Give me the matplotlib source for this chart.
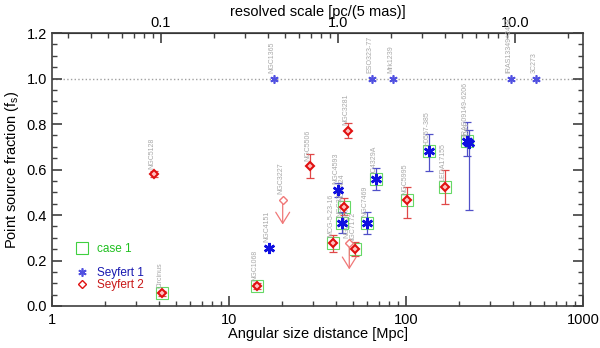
import numpy as np
import matplotlib
matplotlib.use('Agg')
import matplotlib.pyplot as plt
from matplotlib.lines import Line2D
from matplotlib.ticker import FixedLocator, FixedFormatter, MultipleLocator

plt.rcParams['font.family'] = ['Liberation Sans', 'DejaVu Sans']

# Seyfert 1 (blue asterisks)
sy1_names = ['NGC1365', 'ESO323-77', 'Mrk1239', 'IRAS13349+2438', '3C273',
             'NGC4151', 'NGC4593', 'NGC3783', 'NGC7469', 'IC4329A',
             'H0557-385', 'IRAS09149-6206', 'IZw1']
sy1_dist = [17.9, 64.3, 84.5, 392, 542, 16.8, 41.1, 43.6, 60.5, 67.7, 135, 222, 226]
sy1_fs = [1.0, 1.0, 1.0, 1.0, 1.0, 0.256, 0.512, 0.366, 0.366, 0.559, 0.680, 0.724, 0.718]
sy1_err_lo = [0, 0, 0, 0, 0, 0, 0.031, 0.045, 0.049, 0.048, 0.086, 0.066, 0.295]
sy1_err_hi = [0, 0, 0, 0, 0, 0, 0.028, 0.047, 0.046, 0.047, 0.077, 0.084, 0.056]
sy1_case1 = [0, 0, 0, 0, 0, 0, 0, 1, 1, 1, 1, 1, 0]

# Seyfert 2 (red diamonds)
sy2_names = ['NGC5128', 'Circinus', 'NGC1068', 'NGC5506', 'MCG-5-23-16',
             'NGC424', 'NGC3281', 'NGC7172', 'NGC5995', 'LEDA17155']
sy2_dist = [3.77, 4.18, 14.3, 28.7, 38.8, 44.7, 47.2, 51.3, 101.7, 167]
sy2_fs = [0.580, 0.055, 0.087, 0.614, 0.279, 0.437, 0.771, 0.251, 0.464, 0.525]
sy2_err_lo = [0.015, 0.012, 0.012, 0.051, 0.042, 0.035, 0.032, 0.029, 0.075, 0.076]
sy2_err_hi = [0.015, 0.012, 0.012, 0.055, 0.035, 0.039, 0.034, 0.029, 0.058, 0.071]
sy2_case1 = [0, 1, 1, 0, 1, 1, 0, 1, 1, 1]

# Seyfert 2 upper limits
ul_names = ['NGC3227', 'NGC4507']
ul_dist = [20.1, 47.8]
ul_fs = [0.468, 0.276]
ul_arrow_to = [0.346, 0.149]

PC_PER_5MAS_PER_MPC = 0.02424

BLUE = '#1010e0'
RED = '#e01010'
GREEN = '#40d040'
GRAY = '#a8a8a8'


def label(ax, x, y, name):
    ax.annotate(name, (x, y), xytext=(-1.5, 4), textcoords='offset points',
                rotation=90, ha='center', va='bottom', fontsize=5, color=GRAY)


def main():
    fig = plt.figure(figsize=(6, 3.48), dpi=100)
    ax = fig.add_axes([0.0867, 0.1207, 0.885, 0.7843])
    ax.set_xscale('log')
    ax.set_xlim(1, 1000)
    ax.set_ylim(0, 1.2)

    ax.axhline(1.0, color='#a0a0a0', ls=':', lw=1.0, zorder=1)

    # case 1 squares
    for d, f, c in zip(sy1_dist + sy2_dist, sy1_fs + sy2_fs, sy1_case1 + sy2_case1):
        if c:
            ax.plot(d, f, 's', ms=8, mfc='none', mec=GREEN, mew=0.8, alpha=0.8, zorder=2)

    # Seyfert 1
    for n, d, f, lo, hi in zip(sy1_names, sy1_dist, sy1_fs, sy1_err_lo, sy1_err_hi):
        if lo or hi:
            ax.errorbar(d, f, yerr=[[lo], [hi]], fmt='none', ecolor='#5050c8',
                        elinewidth=0.9, capsize=3, capthick=0.9, zorder=3)
        if f >= 1.0:
            ax.plot(d, f, marker=(6, 2, 0), ms=6, color='#5050e0', mew=1.2, zorder=4)
        else:
            ax.plot(d, f, marker=(6, 2, 0), ms=8, color=BLUE, mew=1.8, zorder=4)
        label(ax, d, f, n)

    # Seyfert 2
    for n, d, f, lo, hi in zip(sy2_names, sy2_dist, sy2_fs, sy2_err_lo, sy2_err_hi):
        ax.errorbar(d, f, yerr=[[lo], [hi]], fmt='none', ecolor='#e04848',
                    elinewidth=0.9, capsize=3, capthick=0.9, zorder=3)
        ax.plot(d, f, 'D', ms=4.5, mfc='#ffc0c0', mec=RED, mew=1.5, zorder=4)
        label(ax, d, f, n)

    # upper limits
    for n, d, f, t in zip(ul_names, ul_dist, ul_fs, ul_arrow_to):
        ax.annotate('', xy=(d, t), xytext=(d, f),
                    arrowprops=dict(arrowstyle='->,head_length=0.8,head_width=0.5',
                                    color='#f07878', lw=0.9), zorder=3)
        ax.plot(d, f, 'D', ms=4.5, mfc='white', mec='#f07878', mew=1.0, zorder=4)
        label(ax, d, f, n)

    # legend
    handles = [
        Line2D([], [], ls='none', marker='s', ms=8, mfc='none', mec=GREEN, mew=0.8),
        Line2D([], [], ls='none'),
        Line2D([], [], ls='none', marker=(6, 2, 0), ms=6, color='#5050e0', mew=1.2),
        Line2D([], [], ls='none', marker='D', ms=4, mfc='none', mec=RED, mew=1.0),
    ]
    leg = ax.legend(handles, ['case 1', '', 'Seyfert 1', 'Seyfert 2'],
                    loc='lower left', bbox_to_anchor=(0.015, 0.0), frameon=False,
                    fontsize=8.5, handlelength=1.2, handletextpad=0.6,
                    labelspacing=0.0, borderpad=0.8)
    for txt, col in zip(leg.get_texts(), ['#20c020', 'k', '#1818b0', '#c81818']):
        txt.set_color(col)

    # axes styling
    for sp in ax.spines.values():
        sp.set_color('#404040')
        sp.set_linewidth(1.2)
    ax.xaxis.set_major_locator(FixedLocator([1, 10, 100, 1000]))
    ax.xaxis.set_major_formatter(FixedFormatter(['1', '10', '100', '1000']))
    ax.yaxis.set_major_locator(MultipleLocator(0.2))
    ax.yaxis.set_minor_locator(MultipleLocator(0.05))
    ax.yaxis.set_major_formatter(plt.FuncFormatter(lambda v, p: f'{v:.1f}'))
    ax.tick_params(which='both', direction='in', right=True, colors='#404040',
                   labelcolor='k', labelsize=10.5)
    ax.tick_params(which='major', length=7, width=1.2)
    ax.tick_params(which='minor', length=3.5, width=1.0)
    ax.tick_params(axis='x', pad=5)

    top = ax.secondary_xaxis('top', functions=(lambda d: d * PC_PER_5MAS_PER_MPC,
                                               lambda s: s / PC_PER_5MAS_PER_MPC))
    top.xaxis.set_major_locator(FixedLocator([0.1, 1.0, 10.0]))
    top.xaxis.set_major_formatter(FixedFormatter(['0.1', '1.0', '10.0']))
    top.tick_params(which='both', direction='in', colors='#404040', labelcolor='k',
                    labelsize=10.5, pad=2)
    top.tick_params(which='major', length=7, width=1.2)
    top.tick_params(which='minor', length=3.5, width=1.0)
    top.set_xlabel('resolved scale [pc/(5 mas)]', fontsize=10.5, labelpad=0)

    ax.set_xlabel('Angular size distance [Mpc]', fontsize=10.5, labelpad=0)
    ax.set_ylabel('Point source fraction (f$_\\mathregular{s}$)', fontsize=10.5, labelpad=4)

    fig.savefig('out.png', dpi=100)


if __name__ == '__main__':
    main()
